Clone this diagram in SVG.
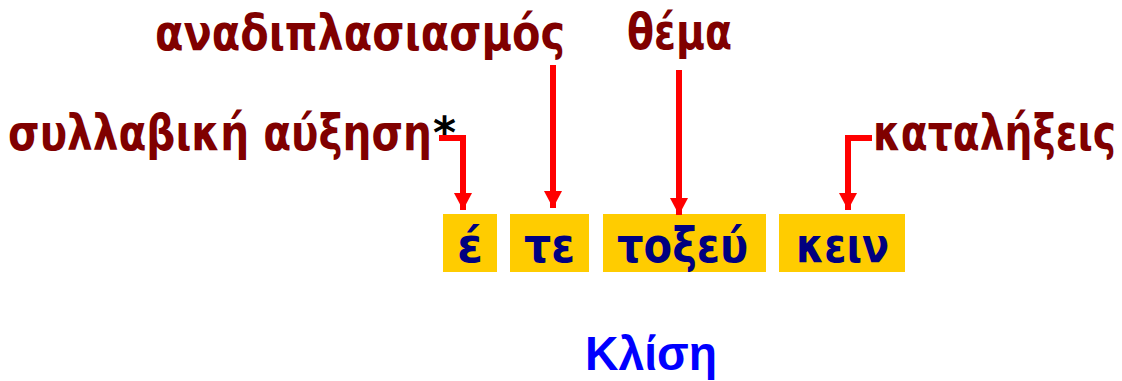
<svg xmlns="http://www.w3.org/2000/svg" width="1122" height="381" viewBox="0 0 1122 381">
  <style>
    .label { font-family: "DejaVu Sans", "Liberation Sans", sans-serif; font-weight: bold; font-size: 50px; fill: #800000; }
    .star { fill: #000000; }
    .box { fill: #ffcc00; }
    .part { font-family: "DejaVu Sans", "Liberation Sans", sans-serif; font-weight: bold; font-size: 48px; fill: #000080; }
    .title { font-family: "Liberation Sans", Arial, sans-serif; font-weight: bold; font-size: 48px; fill: #0000ff; }
    .wire { fill: none; stroke: #ff0000; stroke-width: 6; }
  </style>
  <defs>
    <marker id="head" markerUnits="userSpaceOnUse" markerWidth="18" markerHeight="18" refX="17" refY="9" orient="auto">
      <path d="M0,0 L17,9 L0,18 Z" fill="#ff0000"/>
    </marker>
  </defs>

  <rect width="1122" height="381" fill="#ffffff"/>

  <!-- word segments -->
  <g id="seg-augment">
    <rect class="box" x="443" y="214" width="54" height="58"/>
    <text class="part" x="457" y="262" textLength="26" lengthAdjust="spacingAndGlyphs">έ</text>
  </g>
  <g id="seg-redup">
    <rect class="box" x="510" y="214" width="79" height="58"/>
    <text class="part" x="524" y="262" textLength="51" lengthAdjust="spacingAndGlyphs">τε</text>
  </g>
  <g id="seg-stem">
    <rect class="box" x="603" y="214" width="163" height="58"/>
    <text class="part" x="617" y="262" textLength="131" lengthAdjust="spacingAndGlyphs">τοξεύ</text>
  </g>
  <g id="seg-ending">
    <rect class="box" x="779" y="214" width="126" height="58"/>
    <text class="part" x="796" y="262" textLength="93" lengthAdjust="spacingAndGlyphs">κειν</text>
  </g>

  <!-- labels -->
  <g id="label-augment">
    <text class="label" x="8" y="150"><tspan textLength="424" lengthAdjust="spacingAndGlyphs">συλλαβική αύξηση</tspan><tspan class="star" x="433" y="148" font-size="44">*</tspan></text>
  </g>
  <g id="label-redup">
    <text class="label" x="155" y="50" textLength="410" lengthAdjust="spacingAndGlyphs">αναδιπλασιασμός</text>
  </g>
  <g id="label-stem">
    <text class="label" x="627" y="49" textLength="105" lengthAdjust="spacingAndGlyphs">θέμα</text>
  </g>
  <g id="label-ending">
    <text class="label" x="873" y="150" textLength="243" lengthAdjust="spacingAndGlyphs">καταλήξεις</text>
  </g>

  <g id="title">
    <text class="title" x="585" y="370" textLength="132" lengthAdjust="spacingAndGlyphs">Κλίση</text>
  </g>

  <!-- connectors -->
  <g id="connectors">
    <path class="wire" d="M439,138 H463 V210" marker-end="url(#head)"/>
    <path class="wire" d="M553,65 V208" marker-end="url(#head)"/>
    <path class="wire" d="M679,70 V215" marker-end="url(#head)"/>
    <path class="wire" d="M872,138 H848 V210" marker-end="url(#head)"/>
  </g>
</svg>
